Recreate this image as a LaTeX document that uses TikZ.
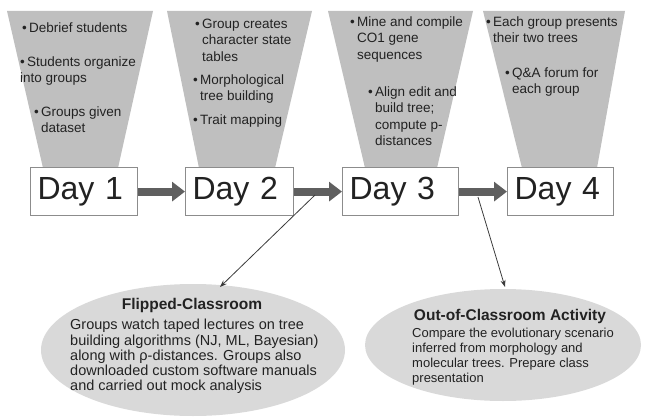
\documentclass[tikz,border=0pt]{standalone}
\usepackage{fontspec}
\setmainfont{Liberation Sans}
\usetikzlibrary{arrows.meta,shapes.geometric}
\definecolor{funnelgray}{HTML}{BFBFBF}
\definecolor{ellgray}{HTML}{D9D9D9}
\definecolor{boxborder}{HTML}{8C8C8C}
\definecolor{arrowgray}{HTML}{5F5F5F}
\definecolor{linegray}{HTML}{3A3A3A}
\definecolor{txt}{HTML}{222222}
\newcommand\mybu{•\,}
\newcommand\myind{\hphantom{•\,}}
\begin{document}
\begin{tikzpicture}[x=1pt,y=-1pt,
  funnel/.style={fill=funnelgray, draw=none},
  daybox/.style={draw=boxborder, line width=1.2pt, fill=white, anchor=north west,
    minimum height=48pt, inner xsep=7pt, inner ysep=0pt, align=left,
    font=\fontsize{32}{36}\selectfont, text=txt},
  bigarrow/.style={draw=arrowgray, line width=8pt, -{Triangle[length=13pt,width=19pt]}},
  thinarrow/.style={draw=linegray, line width=0.8pt, -{Stealth[length=7pt,width=5pt]}},
  ftext/.style={anchor=north west, align=left, inner sep=0pt, text=txt,
    font=\fontsize{13.5}{16.5}\selectfont},
  ell/.style={ellipse, fill=ellgray, draw=none, inner sep=0pt},
  etitle/.style={font=\bfseries\fontsize{15.5}{18}\selectfont, text=txt, inner sep=0pt},
  ebody/.style={anchor=north west, align=left, inner sep=0pt, text=txt}
]
\useasboundingbox (0,0) rectangle (645,417);

% funnels
\fill[funnel] (7,11) -- (153,11) -- (118,168) -- (43,168) -- cycle;
\fill[funnel] (167,11) -- (312,11) -- (275,168) -- (199,168) -- cycle;
\fill[funnel] (328,11) -- (473,11) -- (437,168) -- (365,168) -- cycle;
\fill[funnel] (483,11) -- (625,11) -- (597,168) -- (522,168) -- cycle;

% funnel texts
\node[ftext] (f1a) at (22,20.3) {\strut\mybu Debrief students};
\node[ftext] (f1b) at (20,54.3) {\strut\mybu Students organize\\into groups};
\node[ftext] (f1c) at (34,104.3) {\strut\mybu Groups given\\\myind dataset};

\node[ftext] (f2a) at (195,16.3) {\strut\mybu Group creates\\\myind character state\\\myind tables};
\node[ftext] (f2b) at (193,72.3) {\strut\mybu Morphological\\\myind tree building};
\node[ftext] (f2c) at (193,112.3) {\strut\mybu Trait mapping};

\node[ftext] (f3a) at (350,14.3) {\strut\mybu Mine and compile\\\myind CO1 gene\\\myind sequences};
\node[ftext] (f3b) at (368,84.3) {\strut\mybu Align edit and\\\myind build tree;\\\myind compute p-\\\myind distances};

\node[ftext] (f4a) at (486,14.3) {\strut\mybu Each group presents\\\myind their two trees};
\node[ftext] (f4b) at (505,65.3) {\strut\mybu Q\&A forum for\\\myind each group};

% day boxes
\node[daybox, minimum width=107pt, text width=93pt] (d1) at (30,167) {Day 1};
\node[daybox, minimum width=108pt, text width=94pt] (d2) at (185,167) {Day 2};
\node[daybox, minimum width=116pt, text width=102pt] (d3) at (342,167) {Day 3};
\node[daybox, minimum width=106pt, text width=92pt] (d4) at (507,167) {Day 4};

% big arrows
\draw[bigarrow] (d1.east) -- (d2.west);
\draw[bigarrow] (d2.east) -- (d3.west);
\draw[bigarrow] (d3.east) -- (d4.west);

% ellipses
\node[ell, minimum width=304pt, minimum height=132pt] (e1) at (193,350) {};
\node[ell, minimum width=276pt, minimum height=112pt] (e2) at (503,345) {};

\node[etitle] (e1t) at (192,305) {Flipped-Classroom};
\node[ebody, font=\fontsize{14.5}{15}\selectfont] (e1b) at (70,318.5)
  {\strut Groups watch taped lectures on tree\\
   building algorithms (NJ, ML, Bayesian)\\
   along with ρ-distances. Groups also\\
   downloaded custom software manuals\\
   and carried out mock analysis};

\node[etitle] (e2t) at (510,316) {Out-of-Classroom Activity};
\node[ebody, font=\fontsize{13}{15}\selectfont] (e2b) at (412,327)
  {\strut Compare the evolutionary scenario\\
   inferred from morphology and\\
   molecular trees. Prepare class\\
   presentation};

% thin connectors
\coordinate (s1) at (315,195);
\coordinate (t1) at (220,287);
\coordinate (s2) at (478,197);
\coordinate (t2) at (505,287);
\draw[thinarrow] (s1) -- (t1);
\draw[thinarrow] (s2) -- (t2);
\end{tikzpicture}
\end{document}
